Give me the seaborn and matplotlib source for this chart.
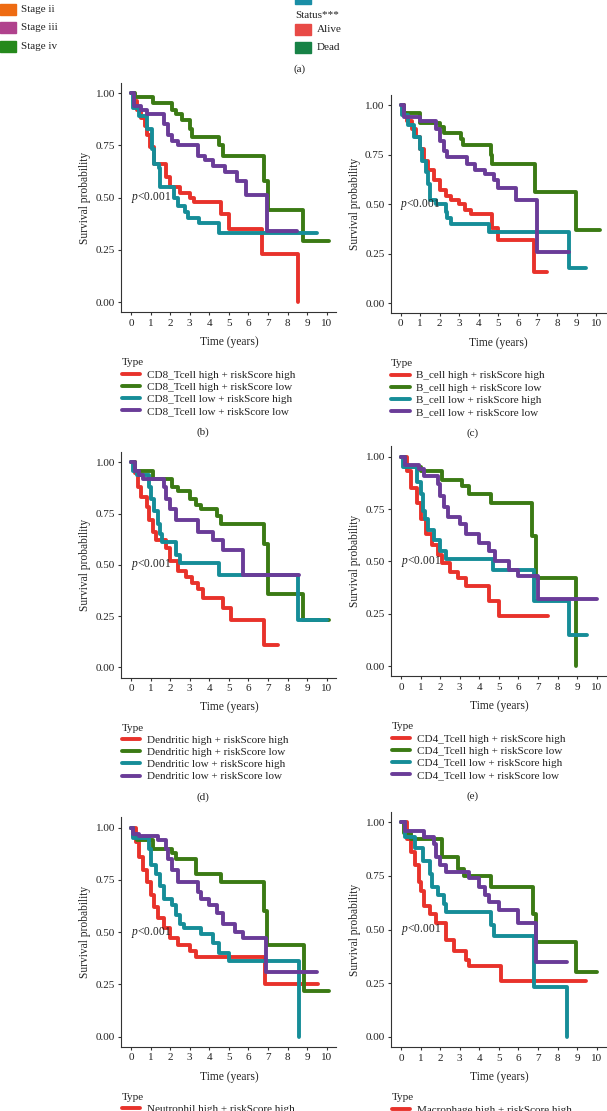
import matplotlib
matplotlib.use('Agg')
import seaborn as sns
import matplotlib.pyplot as plt
import pandas as pd
from matplotlib.lines import Line2D
from matplotlib.patches import Rectangle

# Groups shown in every panel (colour order: red, green, teal, purple)
groups = ['high + riskScore high', 'high + riskScore low',
          'low + riskScore high', 'low + riskScore low']
colors = ['#E8322B', '#3B7A14', '#168D98', '#6A3C98']

# CD8_Tcell (b)
cd8_t = [[0, 0.15, 0.3, 0.5, 0.7, 0.8, 0.95, 1.15, 1.8, 2.0, 2.5, 3.0, 3.2, 4.6, 5.0, 6.7, 8.55],
         [0, 0.2, 1.1, 2.1, 2.3, 2.6, 3.0, 3.1, 4.5, 4.7, 6.8, 7.0, 8.8, 10.1],
         [0, 0.1, 0.4, 0.8, 1.05, 1.2, 1.45, 1.5, 2.2, 2.4, 2.75, 2.9, 3.5, 4.5, 9.5],
         [0, 0.15, 0.5, 0.8, 1.7, 1.9, 2.1, 2.4, 3.4, 3.8, 4.2, 4.8, 5.4, 5.9, 6.95, 8.5]]
cd8_s = [[1.0, 0.96, 0.92, 0.88, 0.84, 0.80, 0.74, 0.66, 0.60, 0.55, 0.52, 0.50, 0.48, 0.42, 0.35, 0.23, 0.0],
         [1.0, 0.98, 0.95, 0.92, 0.90, 0.87, 0.83, 0.79, 0.75, 0.70, 0.58, 0.44, 0.29, 0.29],
         [1.0, 0.93, 0.89, 0.83, 0.73, 0.66, 0.64, 0.55, 0.50, 0.46, 0.43, 0.40, 0.38, 0.33, 0.33],
         [1.0, 0.94, 0.92, 0.90, 0.85, 0.80, 0.77, 0.75, 0.70, 0.68, 0.65, 0.62, 0.58, 0.51, 0.34, 0.34]]

# B_cell (c)
bcell_t = [[0, 0.2, 0.35, 0.6, 0.8, 1.0, 1.2, 1.4, 1.7, 2.0, 2.3, 2.6, 3.0, 3.3, 3.6, 4.7, 5.0, 6.8, 7.5],
           [0, 0.2, 1.0, 2.0, 2.2, 3.1, 3.2, 4.6, 4.7, 6.85, 8.95, 10.2],
           [0, 0.1, 0.4, 0.7, 1.0, 1.1, 1.3, 1.4, 1.5, 1.8, 2.3, 2.4, 2.6, 4.5, 8.6, 9.5],
           [0, 0.2, 1.0, 1.8, 2.0, 2.2, 2.4, 3.4, 3.8, 4.3, 4.8, 5.0, 5.9, 6.95, 8.6]]
bcell_s = [[1.0, 0.96, 0.92, 0.88, 0.84, 0.78, 0.72, 0.67, 0.62, 0.57, 0.54, 0.52, 0.50, 0.47, 0.45, 0.38, 0.32, 0.16, 0.16],
           [1.0, 0.96, 0.91, 0.89, 0.86, 0.83, 0.80, 0.75, 0.70, 0.56, 0.37, 0.37],
           [1.0, 0.95, 0.90, 0.84, 0.78, 0.72, 0.66, 0.60, 0.52, 0.50, 0.46, 0.43, 0.40, 0.36, 0.18, 0.18],
           [1.0, 0.94, 0.92, 0.88, 0.82, 0.77, 0.74, 0.70, 0.67, 0.65, 0.62, 0.58, 0.52, 0.26, 0.26]]

# Dendritic (d)
dend_t = [[0, 0.2, 0.35, 0.5, 0.8, 0.9, 1.1, 1.3, 1.8, 2.0, 2.4, 2.8, 3.1, 3.4, 3.7, 4.7, 5.1, 6.8, 7.5],
          [0, 0.2, 1.1, 2.1, 2.4, 3.0, 3.3, 3.6, 4.4, 4.6, 6.8, 7.0, 8.8, 10.1],
          [0, 0.1, 0.3, 0.9, 1.0, 1.2, 1.4, 1.5, 1.6, 2.3, 2.5, 4.5, 8.55, 10.0],
          [0, 0.2, 0.4, 0.6, 1.7, 1.8, 2.0, 2.3, 3.4, 4.2, 4.7, 5.7, 8.6]]
dend_s = [[1.0, 0.95, 0.88, 0.83, 0.78, 0.72, 0.66, 0.62, 0.58, 0.52, 0.47, 0.44, 0.41, 0.38, 0.34, 0.29, 0.23, 0.11, 0.11],
          [1.0, 0.96, 0.92, 0.88, 0.86, 0.82, 0.79, 0.77, 0.74, 0.70, 0.60, 0.36, 0.23, 0.23],
          [1.0, 0.96, 0.94, 0.88, 0.82, 0.76, 0.70, 0.65, 0.61, 0.55, 0.51, 0.45, 0.23, 0.23],
          [1.0, 0.96, 0.94, 0.92, 0.88, 0.82, 0.77, 0.72, 0.66, 0.62, 0.57, 0.45, 0.45]]

# CD4_Tcell (e)
cd4_t = [[0, 0.3, 0.5, 0.8, 1.0, 1.3, 1.6, 1.9, 2.1, 2.5, 2.9, 3.3, 4.5, 5.0, 7.5],
         [0, 0.2, 1.0, 2.1, 3.1, 3.5, 4.6, 6.7, 6.9, 8.95],
         [0, 0.1, 0.8, 1.0, 1.1, 1.25, 1.4, 1.7, 2.0, 2.3, 4.7, 6.8, 8.6, 9.5],
         [0, 0.2, 0.9, 1.2, 1.9, 2.0, 2.2, 2.4, 3.0, 3.3, 4.0, 4.5, 4.8, 5.5, 6.0, 7.0, 10.0]]
cd4_s = [[1.0, 0.93, 0.85, 0.78, 0.70, 0.63, 0.58, 0.53, 0.49, 0.45, 0.42, 0.38, 0.31, 0.24, 0.24],
         [1.0, 0.95, 0.93, 0.89, 0.86, 0.82, 0.78, 0.62, 0.42, 0.0],
         [1.0, 0.95, 0.88, 0.82, 0.74, 0.70, 0.65, 0.60, 0.55, 0.51, 0.46, 0.31, 0.15, 0.15],
         [1.0, 0.96, 0.94, 0.91, 0.87, 0.81, 0.76, 0.71, 0.68, 0.63, 0.59, 0.55, 0.50, 0.46, 0.43, 0.32, 0.32]]

# Neutrophil (f)
neut_t = [[0, 0.25, 0.4, 0.6, 0.8, 1.0, 1.2, 1.4, 1.7, 2.0, 2.4, 3.0, 3.3, 6.85, 9.55],
          [0, 0.1, 0.3, 1.1, 2.1, 2.3, 3.3, 4.6, 6.8, 6.95, 8.85, 10.1],
          [0, 0.1, 0.9, 1.0, 1.3, 1.5, 1.7, 2.1, 2.3, 2.5, 2.7, 3.6, 4.2, 4.5, 5.0, 8.6],
          [0, 0.1, 0.4, 1.4, 1.8, 1.9, 2.1, 2.4, 3.4, 3.6, 4.0, 4.4, 4.7, 5.3, 5.7, 6.9, 9.5]]
neut_s = [[1.0, 0.93, 0.86, 0.80, 0.74, 0.68, 0.62, 0.57, 0.52, 0.47, 0.44, 0.41, 0.38, 0.25, 0.25],
          [1.0, 0.96, 0.94, 0.90, 0.88, 0.85, 0.78, 0.74, 0.60, 0.44, 0.22, 0.22],
          [1.0, 0.95, 0.90, 0.82, 0.78, 0.72, 0.66, 0.63, 0.58, 0.54, 0.52, 0.49, 0.45, 0.40, 0.36, 0.0],
          [1.0, 0.97, 0.96, 0.94, 0.90, 0.85, 0.80, 0.74, 0.69, 0.66, 0.63, 0.59, 0.54, 0.50, 0.47, 0.31, 0.31]]

# Macrophage (g)
macro_t = [[0, 0.3, 0.5, 0.7, 0.9, 1.0, 1.2, 1.5, 1.8, 2.3, 2.7, 3.3, 3.5, 5.1, 9.45],
           [0, 0.15, 0.5, 2.1, 2.9, 3.2, 4.6, 6.75, 6.9, 8.95, 10.0],
           [0, 0.2, 0.7, 1.1, 1.5, 1.6, 1.9, 2.2, 2.3, 4.6, 4.75, 6.8, 8.5],
           [0, 0.2, 1.2, 1.7, 1.8, 2.0, 2.3, 3.5, 4.0, 4.3, 4.5, 5.0, 6.0, 6.9, 8.5]]
macro_s = [[1.0, 0.92, 0.86, 0.80, 0.72, 0.68, 0.61, 0.57, 0.53, 0.45, 0.40, 0.36, 0.33, 0.26, 0.26],
           [1.0, 0.95, 0.92, 0.84, 0.78, 0.75, 0.70, 0.57, 0.44, 0.30, 0.30],
           [1.0, 0.93, 0.88, 0.82, 0.76, 0.70, 0.66, 0.62, 0.58, 0.52, 0.47, 0.23, 0.0],
           [1.0, 0.96, 0.93, 0.90, 0.84, 0.80, 0.77, 0.74, 0.70, 0.66, 0.63, 0.59, 0.53, 0.35, 0.35]]

# panel (a) legend fragments
stage_labels = ['Stage ii', 'Stage iii', 'Stage iv']
stage_colors = ['#EE6B12', '#B0428D', '#25891C']
status_labels = ['Alive', 'Dead']
status_colors = ['#E84A46', '#178246']

sns.set_theme(style='ticks')
plt.rcParams['font.family'] = ['Liberation Serif', 'DejaVu Serif']
plt.rcParams['mathtext.fontset'] = 'custom'
plt.rcParams['mathtext.it'] = 'Liberation Serif:italic'
plt.rcParams['mathtext.rm'] = 'Liberation Serif'

W, H = 607, 1111
fig = plt.figure(figsize=(W / 100, H / 100), dpi=100)
fig.patch.set_facecolor('white')
FS = 8
TXT = '#222222'


def fx(x):
    return x / W


def fy(y):
    return 1 - y / H


# (a) legend remnants at top
for i, (lab, c) in enumerate(zip(stage_labels, stage_colors)):
    yc = 9.5 + i * 18.3
    fig.patches.append(Rectangle((fx(0), fy(yc + 5.5)), fx(15.5), 11 / H, color=c,
                                 transform=fig.transFigure, figure=fig))
    fig.text(fx(21), fy(yc), lab, fontsize=FS, va='center', ha='left', color=TXT)
fig.patches.append(Rectangle((fx(295), fy(4)), fx(16), 11 / H, color='#1A8EA6',
                             transform=fig.transFigure, figure=fig))
fig.text(fx(317), fy(-2), 'Yes', fontsize=FS, va='center', ha='left', color=TXT)
fig.text(fx(295), fy(16), 'Status***', fontsize=FS, va='center', ha='left', color=TXT)
for i, (lab, c) in enumerate(zip(status_labels, status_colors)):
    yc = 29.5 + i * 18
    fig.patches.append(Rectangle((fx(295), fy(yc + 5.5)), fx(16), 11 / H, color=c,
                                 transform=fig.transFigure, figure=fig))
    fig.text(fx(317), fy(yc), lab, fontsize=FS, va='center', ha='left', color=TXT)
fig.text(fx(293), fy(69), '(a)', fontsize=FS, va='center', ha='left', color=TXT)

# survival panels: name, times, survs, px of x=0, px of y=1, px of y=0, caption
panels = [
    ('CD8_Tcell', cd8_t, cd8_s, 131, 93, 302, '(b)'),
    ('B_cell', bcell_t, bcell_s, 400.5, 105, 303.3, '(c)'),
    ('Dendritic', dend_t, dend_s, 131, 462.3, 667.3, '(d)'),
    ('CD4_Tcell', cd4_t, cd4_s, 401, 456.7, 666, '(e)'),
    ('Neutrophil', neut_t, neut_s, 131, 827.7, 1036.7, '(f)'),
    ('Macrophage', macro_t, macro_s, 401, 822.3, 1036.7, '(g)'),
]
xscale = 19.57  # px per year

for name, times, survs, x0, y1, y0, cap in panels:
    unit = y0 - y1
    left = x0 - 0.5 * xscale
    width = 11 * xscale
    top = y1 - 0.05 * unit
    height = 1.1 * unit
    ax = fig.add_axes([fx(left), fy(top + height), fx(width), height / H])

    labels = [f'{name} {g}' for g in groups]
    rows = []
    for lab, ts, ss in zip(labels, times, survs):
        for t, s in zip(ts, ss):
            rows.append({'Time': t, 'Survival': s, 'Type': lab})
    df = pd.DataFrame(rows)
    sns.lineplot(data=df, x='Time', y='Survival', hue='Type', hue_order=labels,
                 palette=colors, estimator=None, drawstyle='steps-post',
                 linewidth=2.8, legend=False, ax=ax)

    ax.set_xlim(-0.5, 10.5)
    ax.set_ylim(-0.05, 1.05)
    ax.set_xticks(range(11))
    ax.set_yticks([0, 0.25, 0.5, 0.75, 1.0])
    ax.set_yticklabels(['0.00', '0.25', '0.50', '0.75', '1.00'])
    ax.tick_params(labelsize=FS, length=2.5, width=0.8, pad=2, colors='#333333',
                   labelcolor=TXT)
    for sp in ['top', 'right']:
        ax.spines[sp].set_visible(False)
    for sp in ['left', 'bottom']:
        ax.spines[sp].set_linewidth(0.8)
        ax.spines[sp].set_color('#333333')
    ax.set_facecolor('white')
    ax.set_xlabel('Time (years)', fontsize=FS + 0.3, color=TXT, labelpad=6)
    ax.set_ylabel('Survival probability', fontsize=FS + 0.3, color=TXT, labelpad=3)
    ax.text(0, 0.5, r'$p$<0.001', fontsize=FS + 0.3, color=TXT, ha='left', va='center')

    handles = [Line2D([], [], color=c, lw=2.8) for c in colors]
    axis_bottom = top + height
    leg = ax.legend(handles, labels, title='Type', loc='upper left',
                    bbox_to_anchor=(fx(left + 0.5), fy(axis_bottom + 46)),
                    bbox_transform=fig.transFigure, frameon=False, fontsize=FS,
                    title_fontsize=FS, alignment='left', borderpad=0, borderaxespad=0,
                    handlelength=1.65, handletextpad=0.6, labelspacing=0.22)
    for t in leg.get_texts():
        t.set_color(TXT)
    leg.get_title().set_color(TXT)

    if cap in ('(b)', '(c)', '(d)', '(e)'):
        fig.text(fx(x0 + 72), fy(axis_bottom + 120), cap, fontsize=FS,
                 ha='center', va='center', color=TXT)

fig.savefig('out.png', dpi=100, facecolor='white')
